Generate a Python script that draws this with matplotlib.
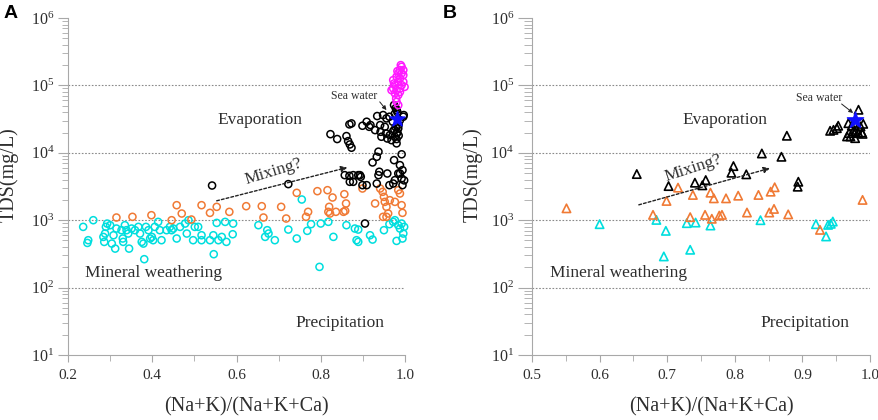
import matplotlib
matplotlib.use("Agg")
import matplotlib.pyplot as plt
from matplotlib.ticker import LogLocator, NullFormatter, MultipleLocator, LogFormatterSciNotation

plt.rcParams['font.family'] = ['Liberation Serif', 'DejaVu Serif']
plt.rcParams['mathtext.fontset'] = 'custom'
plt.rcParams['mathtext.rm'] = 'Liberation Serif'
plt.rcParams['mathtext.it'] = 'Liberation Serif:italic'
plt.rcParams['mathtext.bf'] = 'Liberation Serif:bold'

# ---------------- Panel A data (circles) ----------------
cyan_a_x = [0.236, 0.248, 0.246, 0.260, 0.284, 0.286, 0.288, 0.290, 0.293, 0.300,
            0.304, 0.308, 0.312, 0.315, 0.327, 0.330, 0.331, 0.335, 0.339, 0.343,
            0.345, 0.351, 0.359, 0.367, 0.371, 0.375, 0.379, 0.381, 0.385, 0.391,
            0.395, 0.399, 0.402, 0.406, 0.414, 0.418, 0.422, 0.434, 0.442, 0.446,
            0.450, 0.458, 0.466, 0.478, 0.482, 0.486, 0.497, 0.501, 0.509, 0.517,
            0.517, 0.537, 0.545, 0.546, 0.553, 0.557, 0.565, 0.573, 0.576, 0.592,
            0.591,
            0.652, 0.668, 0.673, 0.676, 0.691, 0.723, 0.743, 0.755, 0.768, 0.777,
            0.800, 0.818, 0.830, 0.861, 0.881, 0.885, 0.889, 0.889, 0.917, 0.923,
            0.950, 0.963, 0.972, 0.976, 0.980, 0.984, 0.988, 0.992, 0.996, 0.994,
            0.998, 0.797]
cyan_a_y = [796, 505, 460, 1000, 565, 476, 634, 796, 891, 843,
            450, 598, 379, 752, 711, 535, 477, 843, 711, 634,
            379, 752, 711, 796, 634, 477, 450, 264, 796, 711,
            535, 565, 505, 796, 944, 711, 505, 711, 796, 711,
            752, 535, 796, 891, 634, 1000, 505, 796, 796, 598,
            505, 505, 598, 313, 912, 505, 565, 944, 477, 891,
            619,
            843, 566, 711, 634, 505, 726, 535, 2028, 695, 873,
            893, 945, 566, 843, 752, 505, 477, 726, 598, 516,
            711, 873, 945, 1000, 493, 843, 752, 892, 634, 535,
            796, 203]

orange_a_x = [0.315, 0.353, 0.398, 0.446, 0.458, 0.470, 0.493, 0.517, 0.537, 0.553, 0.583,
              0.623, 0.660, 0.664, 0.706, 0.718, 0.743, 0.765, 0.770, 0.792, 0.816,
              0.820, 0.828, 0.818, 0.822, 0.836, 0.854, 0.858, 0.856, 0.860, 0.899,
              0.929, 0.941, 0.947, 0.950, 0.952, 0.956, 0.960, 0.964, 0.976, 0.984,
              0.988, 0.992, 0.994, 0.948, 0.956]
orange_a_y = [1096, 1122, 1186, 1000, 1670, 1256, 1023, 1670, 1285, 1578, 1330,
              1614, 1614, 1096, 1578, 1059, 2547, 1122, 1331, 2697, 2789,
              1578, 2172, 1331, 1257, 1331, 1331, 1376, 2432, 1771, 2953,
              1771, 2953, 2636, 2220, 1871, 1578, 1257, 1982, 1871, 2789,
              2489, 1670, 1285, 1122, 1122]

black_a_x = [0.823, 0.839, 0.861, 0.865, 0.869, 0.873, 0.868, 0.873, 0.899, 0.909,
             0.915, 0.918, 0.929, 0.934, 0.942, 0.948, 0.952, 0.956, 0.941, 0.944,
             0.955, 0.958, 0.964, 0.968, 0.972, 0.976, 0.980, 0.971, 0.963, 0.974,
             0.980, 0.988, 0.996, 0.997, 0.984, 0.980, 0.937, 0.933, 0.923, 0.974,
             0.988, 0.939, 0.958, 0.984, 0.994, 0.877, 0.893, 0.868,
             0.857, 0.869, 0.877, 0.889, 0.895, 0.899, 0.909, 0.933, 0.937, 0.963,
             0.972, 0.976, 0.988, 0.992, 0.994, 0.723, 0.905,
             0.542, 0.992, 0.998,
             0.978, 0.982, 0.976, 0.985, 0.978, 0.982, 0.975, 0.985, 0.980]
black_a_y = [18900, 16000, 17700, 14900, 13300, 11900, 26400, 27300, 25200, 28900,
             24300, 25800, 21700, 35100, 20500, 36300, 24300, 32400, 25800, 17300,
             19400, 16300, 18300, 15400, 21000, 17300, 13800, 28900, 34300, 51100,
             43100, 30500, 34300, 36300, 23000, 19400, 10400, 8730, 7190, 7780,
             6560, 5230, 4930, 4930, 5530, 4660, 4660, 4560,
             4660, 3710, 3710, 4660, 4400, 3310, 3310, 3500, 4660, 3310,
             3500, 3930, 4930, 4160, 3310, 3430, 893,
             3270, 9500, 3900,
             46000, 40000, 38000, 26000, 24000, 20000, 22000, 18000, 16000]

magenta_a_x = [0.992, 0.988, 0.984, 0.992, 0.980, 0.988, 0.996, 0.972, 0.984, 0.976,
               0.992, 0.988, 0.980, 0.972, 0.968, 0.976, 0.984, 0.979, 0.980, 0.984,
               0.996, 0.999, 0.996, 0.990, 0.982, 0.974, 0.988]
magenta_a_y = [189000, 169000, 151000, 151000, 135000, 127000, 142000, 120000, 113000, 101000,
               101000, 90000, 85000, 90000, 85000, 76000, 72000, 64000, 57000, 51000,
               113000, 95000, 169000, 200000, 163000, 107000, 80000]

# ---------------- Panel B data (triangles) ----------------
black_b_x = [0.655, 0.702, 0.741, 0.752, 0.757, 0.795, 0.798, 0.817, 0.840, 0.869, 0.893, 0.894,
             0.877,
             0.941, 0.946, 0.951, 0.953, 0.966, 0.969, 0.971, 0.973, 0.975, 0.978,
             0.980, 0.983, 0.986, 0.988, 0.990, 0.989, 0.983, 0.978, 0.968]
black_b_y = [4840, 3210, 3600, 3290, 3940, 5060, 6350, 4790, 9770, 8730, 3140, 3720,
             17900,
             21200, 21900, 23200, 25200, 17500, 19600, 17500, 25200, 20700, 16500,
             21900, 43500, 24600, 20000, 26900, 19100, 19600, 20700, 27500]

orange_b_x = [0.551, 0.679, 0.699, 0.716, 0.734, 0.738, 0.756, 0.764, 0.769, 0.766, 0.777, 0.781,
              0.787, 0.805, 0.818, 0.835, 0.851, 0.853, 0.858, 0.859, 0.879, 0.926, 0.989]
orange_b_y = [1500, 1200, 1930, 3040, 1110, 2370, 1200, 2560, 2110, 1050, 1170, 1200,
              2110, 2310, 1300, 2370, 1300, 2650, 1470, 3080, 1220, 719, 2000]

cyan_b_x = [0.600, 0.684, 0.698, 0.695, 0.729, 0.734, 0.742, 0.764, 0.838, 0.920, 0.935, 0.938, 0.942, 0.945]
cyan_b_y = [873, 1010, 695, 290, 904, 364, 923, 834, 1000, 873, 574, 853, 884, 955]

seawater_a = (0.980, 31600)
seawater_b = (0.978, 31000)

# ---------------- Figure ----------------
W, H = 879, 420
fig = plt.figure(figsize=(W / 100, H / 100), dpi=100)
axA = fig.add_axes([68 / W, 65 / H, 337 / W, 337 / H])
axB = fig.add_axes([532 / W, 65 / H, 338 / W, 337 / H])

CYAN = '#00dede'
ORANGE = '#f07a35'
MAGENTA = '#ff1aff'
SPINE = '#a8a8a8'
TXT = '#2e2e2e'


def style_axis(ax, xlim, xmaj, xmin, tick_major_len, tick_minor_len):
    ax.set_yscale('log')
    ax.set_ylim(10, 1e6)
    ax.set_xlim(*xlim)
    for s in ['top', 'right']:
        ax.spines[s].set_visible(False)
    for s in ['left', 'bottom']:
        ax.spines[s].set_color(SPINE)
        ax.spines[s].set_linewidth(0.8)
    ax.yaxis.set_major_locator(LogLocator(base=10, numticks=10))
    ax.yaxis.set_minor_locator(LogLocator(base=10, subs=range(2, 10), numticks=10))
    ax.yaxis.set_major_formatter(LogFormatterSciNotation())
    ax.yaxis.set_minor_formatter(NullFormatter())
    ax.xaxis.set_major_locator(MultipleLocator(xmaj))
    ax.xaxis.set_minor_locator(MultipleLocator(xmin))
    ax.tick_params(axis='y', which='major', direction='out', length=tick_major_len, width=0.8,
                   color=SPINE, labelsize=11.5, labelcolor=TXT, pad=3)
    ax.tick_params(axis='y', which='minor', direction='out', length=tick_minor_len, width=0.6,
                   color=SPINE)
    ax.tick_params(axis='x', which='major', direction='out', length=5, width=0.8,
                   color=SPINE, labelsize=11, labelcolor=TXT, pad=5)
    ax.tick_params(axis='x', which='minor', direction='out', length=4, width=0.6, color=SPINE)
    for yv in [1e2, 1e3, 1e4, 1e5]:
        ax.axhline(yv, color='#8a8a8a', lw=0.8, ls=(0, (1.5, 1.5)), zorder=1)
    ax.set_xlabel('(Na+K)/(Na+K+Ca)', fontsize=14.5, color=TXT)
    ax.set_ylabel('TDS(mg/L)', fontsize=14.5, color=TXT)
    ax.xaxis.set_label_coords(0.53, -0.125)
    ax.yaxis.set_label_coords(-0.145, 0.535)


style_axis(axA, (0.2, 1.0), 0.2, 0.1, 7, 4)
style_axis(axB, (0.5, 1.0), 0.1, 0.05, 10, 6)

# Panel A markers
mk = dict(marker='o', s=26, facecolors='none', linewidths=1.1, clip_on=False, zorder=3)
axA.scatter(cyan_a_x, cyan_a_y, edgecolors=CYAN, **mk)
axA.scatter(orange_a_x, orange_a_y, edgecolors=ORANGE, **mk)
axA.scatter(black_a_x, black_a_y, edgecolors='black', **mk)
axA.scatter(magenta_a_x, magenta_a_y, edgecolors=MAGENTA, **mk)
axA.scatter([seawater_a[0]], [seawater_a[1]], marker='*', s=130, color='#1010ff', zorder=5, clip_on=False)

# Panel B markers
mt = dict(marker='^', s=36, facecolors='none', linewidths=1.2, clip_on=False, zorder=3)
axB.scatter(cyan_b_x, cyan_b_y, edgecolors=CYAN, **mt)
axB.scatter(orange_b_x, orange_b_y, edgecolors=ORANGE, **mt)
axB.scatter(black_b_x, black_b_y, edgecolors='black', **mt)
axB.scatter([seawater_b[0]], [seawater_b[1]], marker='*', s=150, color='#1010ff', zorder=5, clip_on=False)

# Annotations
fs = 12.5
arrow_mix = dict(arrowstyle='-|>', color='#222222', lw=1.0, linestyle=(0, (2, 1.5)),
                 mutation_scale=9, shrinkA=0, shrinkB=0)
sea_arrow = dict(arrowstyle='-|>', color='#222222', lw=0.7, mutation_scale=6, shrinkA=0, shrinkB=0)

# A
axA.text(0.655, 3.1e4, 'Evaporation', fontsize=fs, color=TXT, ha='center', va='center')
axA.text(0.404, 163, 'Mineral weathering', fontsize=fs, color=TXT, ha='center', va='center')
axA.text(0.846, 30, 'Precipitation', fontsize=fs, color=TXT, ha='center', va='center')
axA.text(0.687, 5.3e3, 'Mixing?', fontsize=fs, color=TXT, ha='center', va='center', rotation=17)
axA.annotate('', xy=(0.863, 6050), xytext=(0.553, 1940), arrowprops=arrow_mix)
axA.text(0.879, 7.0e4, 'Sea water', fontsize=8.5, color=TXT, ha='center', va='center')
axA.annotate('', xy=(0.956, 4.3e4), xytext=(0.940, 5.7e4), arrowprops=sea_arrow)

# B
axB.text(0.785, 3.1e4, 'Evaporation', fontsize=fs, color=TXT, ha='center', va='center')
axB.text(0.628, 163, 'Mineral weathering', fontsize=fs, color=TXT, ha='center', va='center')
axB.text(0.904, 30, 'Precipitation', fontsize=fs, color=TXT, ha='center', va='center')
axB.text(0.739, 5.9e3, 'Mixing?', fontsize=fs, color=TXT, ha='center', va='center', rotation=18)
axB.annotate('', xy=(0.852, 5900), xytext=(0.658, 1690), arrowprops=arrow_mix)
axB.text(0.925, 6.6e4, 'Sea water', fontsize=8.5, color=TXT, ha='center', va='center')
axB.annotate('', xy=(0.975, 3.9e4), xytext=(0.958, 5.3e4), arrowprops=sea_arrow)

# Panel letters
fig.text(4 / W, 1 - 13 / H, 'A', fontsize=14, fontweight='bold', family='Liberation Sans',
         ha='left', va='center', color='black')
fig.text(443 / W, 1 - 13 / H, 'B', fontsize=14, fontweight='bold', family='Liberation Sans',
         ha='left', va='center', color='black')

fig.savefig('out.png', dpi=100)
